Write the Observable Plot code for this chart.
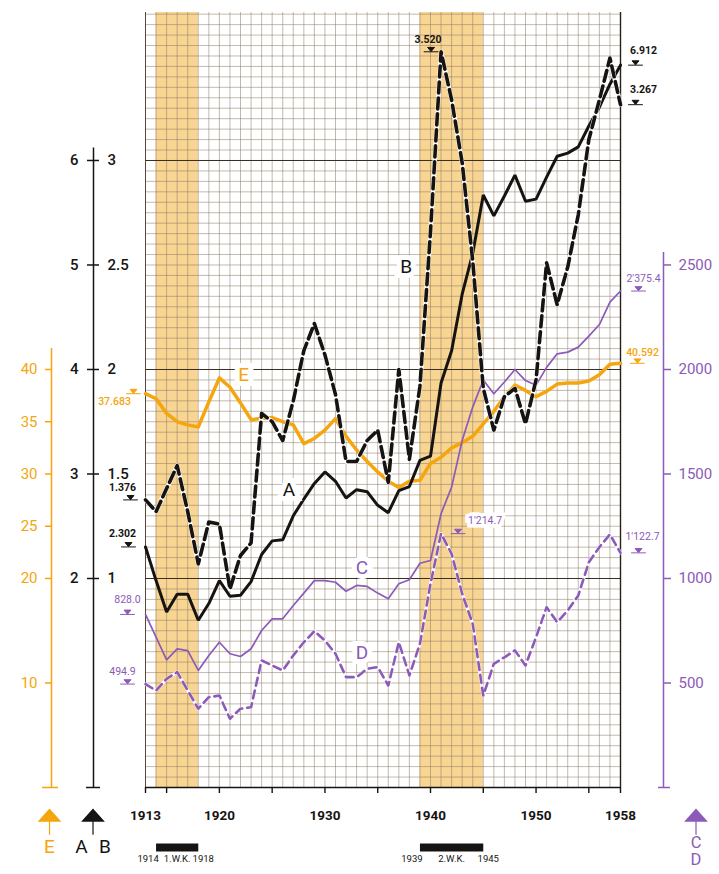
<!DOCTYPE html>
<html><head><meta charset="utf-8">
<script src="https://cdn.jsdelivr.net/npm/d3@7"></script>
<script src="https://cdn.jsdelivr.net/npm/@observablehq/plot@0.6"></script>
<style>
html,body{margin:0;padding:0;background:#fff;}
#chart{width:719px;height:874px;overflow:hidden;}
</style></head><body><div id="chart"></div>
<script>
// ---------------- data ----------------
const years = [1913,1914,1915,1916,1917,1918,1919,1920,1921,1922,1923,1924,1925,1926,1927,1928,1929,1930,1931,1932,1933,1934,1935,1936,1937,1938,1939,1940,1941,1942,1943,1944,1945,1946,1947,1948,1949,1950,1951,1952,1953,1954,1955,1956,1957,1958];
// A (left black scale, 0-6)
const seriesA = [2.302,1.98,1.68,1.85,1.85,1.60,1.76,1.98,1.83,1.84,1.97,2.23,2.36,2.37,2.60,2.76,2.91,3.02,2.93,2.77,2.85,2.83,2.70,2.63,2.84,2.88,3.13,3.17,3.87,4.18,4.72,5.11,5.67,5.47,5.66,5.86,5.61,5.63,5.84,6.04,6.07,6.13,6.33,6.51,6.73,6.912];
// B (left black scale, 0-3)
const seriesB = [1.376,1.32,1.43,1.54,1.32,1.07,1.27,1.26,0.95,1.11,1.17,1.79,1.75,1.66,1.85,2.09,2.22,2.07,1.88,1.56,1.56,1.66,1.71,1.46,2.00,1.57,1.92,2.66,3.520,3.29,2.99,2.52,1.91,1.71,1.87,1.91,1.74,1.95,2.51,2.31,2.49,2.74,3.10,3.29,3.49,3.267];
// C (right purple scale)
const seriesC = [828.0,720,611,663,655,560,632,695,640,627,664,751,807,807,871,930,990,990,982,939,967,962,930,903,975,994,1073,1086,1310,1437,1660,1820,1950,1884,1940,2000,1947,1925,2010,2075,2083,2107,2160,2215,2322,2375.4];
// D (right purple scale)
const seriesD = [494.9,464,520,552,464,377,432,440,329,377,384,608,584,560,632,695,748,703,640,528,528,568,576,488,695,536,688,975,1214.7,1118,927,783,440,592,623,656,584,719,863,791,847,919,1078,1150,1211,1122.7];
// E (left orange scale)
const seriesE = [37.683,37.2,35.8,35.0,34.7,34.5,36.9,39.2,38.3,36.8,35.2,35.3,35.4,35.0,34.7,32.9,33.4,34.2,35.3,33.6,32.3,31.2,30.2,29.3,28.7,29.3,29.4,31.0,31.6,32.5,33.0,33.6,34.8,36.0,37.4,38.5,38.0,37.4,37.9,38.6,38.7,38.7,38.9,39.5,40.5,40.592];

// axis ticks
const ticksA = [2,3,4,5,6];
const ticksE = [10,20,25,30,35,40];
const ticksCD = [500,1000,1500,2000,2500];
const xTickYears = [1913,1915,1920,1925,1930,1935,1940,1945,1950,1955,1958];
const xLabelYears = [1913,1920,1930,1940,1950,1958];
const axisTopA = 6.12, axisTopE = 42, axisTopCD = 2560;
const wars = [{from:1914,to:1918,name:"1.W.K."},{from:1939,to:1945,name:"2.W.K."}];

// ---------------- common y-unit: A units ----------------
const toY = {A: v => v, B: v => v * 2, C: v => v / 500, D: v => v / 500, E: v => v / 10};
const raw = {A: seriesA, B: seriesB, C: seriesC, D: seriesD, E: seriesE};
const rows = {};
for (const k of Object.keys(raw)) rows[k] = years.map((yr, i) => ({year: yr, y: toY[k](raw[k][i]), v: raw[k][i]}));

const ORANGE = "#f5a50d", PURPLE = "#8c5ab8", INK = "#161412", GRID = "#8b7963";

// series name labels
const nameLabels = [
  {s:"E", year:1922.3, value:39.5, color:ORANGE},
  {s:"A", year:1926.6, value:2.85, color:INK},
  {s:"B", year:1937.7, value:2.49, color:INK},
  {s:"C", year:1933.5, value:1053, color:PURPLE},
  {s:"D", year:1933.5, value:646, color:PURPLE}
];
// value annotations: series, year, printed text, offsets
const notes = [
  {s:"E", year:1913, text:"37.683", color:ORANGE, mdx:-12, ldx:-31, ldy:8, w:500},
  {s:"B", year:1913, text:"1.376", color:INK, mdx:-15, ldx:-23, ldy:-12, w:700},
  {s:"A", year:1913, text:"2.302", color:INK, mdx:-17, ldx:-23, ldy:-13, w:700},
  {s:"C", year:1913, text:"828.0", color:PURPLE, mdx:-18, ldx:-18, ldy:-15, w:400},
  {s:"D", year:1913, text:"494.9", color:PURPLE, mdx:-18, ldx:-23, ldy:-12, w:400},
  {s:"A", year:1958, text:"6.912", color:INK, mdx:15, ldx:23, ldy:-15, w:700},
  {s:"B", year:1958, text:"3.267", color:INK, mdx:15, ldx:23, ldy:-15, w:700},
  {s:"C", year:1958, text:"2'375.4", color:PURPLE, mdx:18, ldx:23, ldy:-12, w:400},
  {s:"E", year:1958, text:"40.592", color:ORANGE, mdx:17, ldx:22, ldy:-11, w:500},
  {s:"D", year:1958, text:"1'122.7", color:PURPLE, mdx:18, ldx:22, ldy:-16, w:400},
  {s:"B", year:1941, text:"3.520", color:INK, mdx:-10, ldx:-13, ldy:-12, w:700},
  {s:"D", year:1941, text:"1'214.7", color:PURPLE, mdx:17, ldx:44, ldy:-13, w:400, bg:true}
].map(n => ({...n, y: toY[n.s](raw[n.s][years.indexOf(n.year)])}));

// arrows under the axes and their letters
const arrows = [
  {year:1913, dx:-96, color:ORANGE},
  {year:1913, dx:-52.5, color:INK},
  {year:1958, dx:75.5, color:PURPLE}
];
const arrowLetters = [
  {year:1913, text:"E", dx:-96, dy:65, size:19, color:ORANGE},
  {year:1913, text:"A", dx:-64, dy:65, size:19, color:INK},
  {year:1913, text:"B", dx:-40.5, dy:65, size:19, color:INK},
  {year:1958, text:"C", dx:75.5, dy:60, size:16.5, color:PURPLE},
  {year:1958, text:"D", dx:75.5, dy:77.5, size:16.5, color:PURPLE}
];

// ---------------- symbols ----------------
const markSym = {draw(ctx, size){ const r = Math.sqrt(size/Math.PI);
  ctx.moveTo(-r*1.6, 0); ctx.lineTo(r*1.6, 0);
  ctx.moveTo(-r*0.75, -r*0.95); ctx.lineTo(r*0.75, -r*0.95); ctx.lineTo(0, -0.2); ctx.closePath(); }};
const arrowSym = {draw(ctx, size){ const r = Math.sqrt(size/Math.PI);
  ctx.moveTo(0, 0); ctx.lineTo(r, r*1.1); ctx.lineTo(-r, r*1.1); ctx.closePath();
  ctx.moveTo(0, r*1.1); ctx.lineTo(0, r*2.4); }};

const FONT = "Roboto, 'DejaVu Sans', sans-serif";

const marks = [
  // war shading
  Plot.rect(wars, {x1:"from", x2:"to", fill:"#f8d593"}),
  // grid
  Plot.ruleX(years, {stroke:GRID, strokeWidth:0.65, strokeOpacity:0.8}),
  Plot.ruleY(d3.range(75).map(i => i/10), {stroke:GRID, strokeWidth:0.65, strokeOpacity:0.8}),
  Plot.ruleY([2,4,6], {stroke:"#3b2e22", strokeWidth:1.1}),
  Plot.ruleX([1913], {stroke:"#4a3b2e", strokeWidth:0.9}),
  Plot.ruleX([1958], {stroke:"#2a2018", strokeWidth:1.4}),
  Plot.ruleY([0], {stroke:INK, strokeWidth:1.6}),
  // x axis
  Plot.axisX(xTickYears, {tickSize:6, tickFormat:() => "", color:INK, strokeWidth:1.4}),
  Plot.axisX(xLabelYears, {tickSize:0, tickPadding:23, fontSize:13.5, fontWeight:"bold", color:INK, tickFormat:d => String(d)}),
  // left black axis A / B
  Plot.ruleX([1913], {y1:0, y2:axisTopA, dx:-52, stroke:INK, strokeWidth:1.5}),
  Plot.axisY(ticksA, {anchor:"left", dx:-46, tickSize:12, tickPadding:9, fontSize:15, fontWeight:500, color:INK, strokeWidth:1.5, tickFormat:d => String(d)}),
  Plot.axisY(ticksA, {anchor:"left", dx:-38, tickSize:0, tickPadding:0, textAnchor:"start", fontSize:15, fontWeight:500, color:INK, tickFormat:d => String(d/2)}),
  Plot.axisY([0], {anchor:"left", dx:-45, tickSize:14, tickFormat:() => "", color:INK, strokeWidth:1.5}),
  // left orange axis E
  Plot.ruleX([1913], {y1:0, y2:toY.E(axisTopE), dx:-94, stroke:ORANGE, strokeWidth:1.5}),
  Plot.axisY(ticksE.map(toY.E), {anchor:"left", dx:-94, tickSize:6, tickPadding:8, fontSize:15, color:ORANGE, strokeWidth:1.5, tickFormat:d => String(Math.round(d*10))}),
  Plot.axisY([0], {anchor:"left", dx:-87, tickSize:16, tickFormat:() => "", color:ORANGE, strokeWidth:1.5}),
  // right purple axis C / D
  Plot.ruleX([1958], {y1:0, y2:toY.C(axisTopCD), dx:43, stroke:PURPLE, strokeWidth:1.5}),
  Plot.axisY(ticksCD.map(toY.C), {anchor:"right", dx:43, tickSize:7, tickPadding:8, fontSize:15, color:PURPLE, strokeWidth:1.5, tickFormat:d => String(Math.round(d*500))}),
  Plot.axisY([0], {anchor:"right", dx:37, tickSize:12, tickFormat:() => "", color:PURPLE, strokeWidth:1.5}),
  // series
  Plot.line(rows.E, {x:"year", y:"y", stroke:ORANGE, strokeWidth:3.5, strokeLinejoin:"round"}),
  Plot.line(rows.C, {x:"year", y:"y", stroke:PURPLE, strokeWidth:1.7}),
  Plot.line(rows.D, {x:"year", y:"y", stroke:"white", strokeWidth:3.2}),
  Plot.line(rows.D, {x:"year", y:"y", stroke:PURPLE, strokeWidth:2.6, strokeDasharray:"8,5"}),
  Plot.line(rows.A, {x:"year", y:"y", stroke:INK, strokeWidth:3, strokeLinejoin:"miter"}),
  Plot.line(rows.B, {x:"year", y:"y", stroke:"white", strokeWidth:4.4}),
  Plot.line(rows.B, {x:"year", y:"y", stroke:INK, strokeWidth:3.6, strokeDasharray:"11,5"}),
  // series names
  ...nameLabels.map(n => Plot.text([n], {x:"year", y:d => toY[d.s](d.value), text:"s", fill:n.color, fontSize:19, fontFamily:FONT, stroke:"white", strokeWidth:10, strokeLinejoin:"miter", paintOrder:"stroke"})),
  // value annotations
  ...notes.map(n => Plot.dot([n], {x:"year", y:"y", dx:n.mdx, symbol:markSym, r:4.6, fill:n.color, stroke:n.color, strokeWidth:1})),
  ...notes.map(n => Plot.text([n], {x:"year", y:"y", dx:n.ldx, dy:n.ldy, text:"text", fill:n.color, fontSize:10.5, fontWeight:n.w, fontFamily:FONT,
      ...(n.bg ? {stroke:"white", strokeWidth:7, strokeLinejoin:"miter", paintOrder:"stroke"} : {})})),
  // war bars
  Plot.link(wars, {x1:"from", x2:"to", y1:0, y2:0, dy:60, stroke:INK, strokeWidth:8}),
  Plot.text(wars, {x:"from", frameAnchor:"bottom", dy:74, dx:-8, text:d => String(d.from), fontSize:9.5, fill:INK, fontFamily:FONT}),
  Plot.text(wars, {x:d => (d.from + d.to)/2, frameAnchor:"bottom", dy:74, text:"name", fontSize:9.5, fill:INK, fontFamily:FONT}),
  Plot.text(wars, {x:"to", frameAnchor:"bottom", dy:74, dx:5, text:d => String(d.to), fontSize:9.5, fill:INK, fontFamily:FONT}),
  // arrows
  ...arrows.map(a => Plot.dot([a], {x:"year", frameAnchor:"bottom", dy:22, dx:a.dx, symbol:arrowSym, r:10.5, fill:a.color, stroke:a.color, strokeWidth:1.2})),
  ...arrowLetters.map(a => Plot.text([a], {x:"year", frameAnchor:"bottom", dy:a.dy, dx:a.dx, text:"text", fill:a.color, fontSize:a.size, fontFamily:FONT}))
];

const chart = Plot.plot({
  width: 719, height: 874,
  marginLeft: 145, marginRight: 99, marginTop: 12, marginBottom: 87,
  style: {background:"white", fontFamily:FONT, overflow:"hidden"},
  x: {domain:[1913, 1958], label:null},
  y: {domain:[0, 7.416], label:null},
  marks
});
document.getElementById("chart").appendChild(chart);
</script>
</body></html>
